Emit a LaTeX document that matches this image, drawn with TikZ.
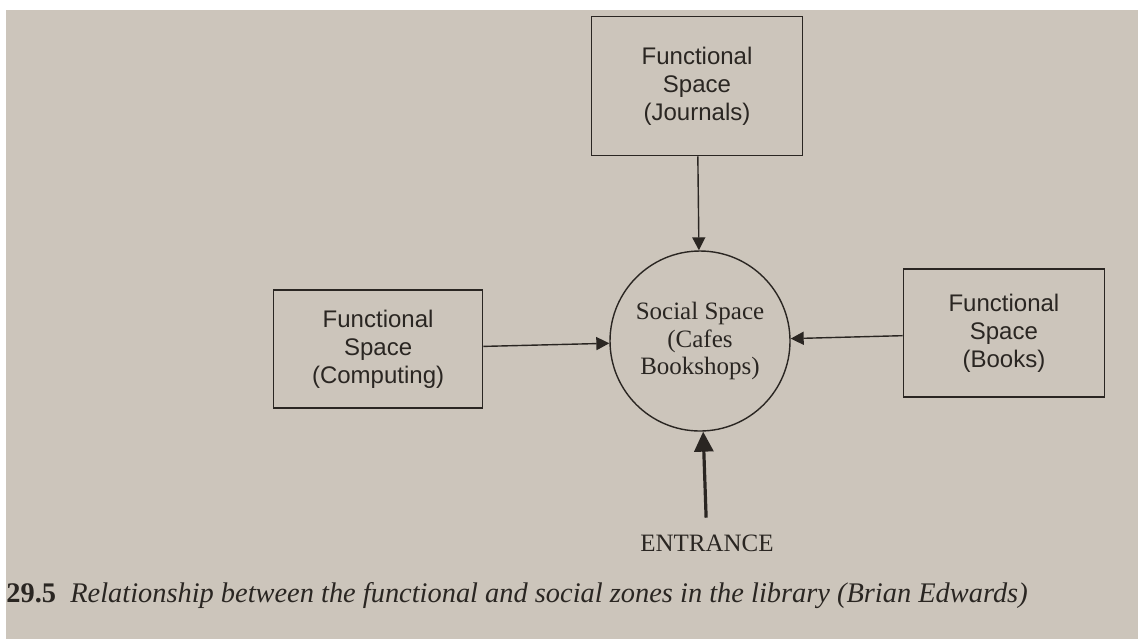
\documentclass[tikz,border=0pt]{standalone}
\usepackage{fontspec}
\setmainfont{Liberation Serif}
\newfontfamily\boxfont{Liberation Sans}
\usetikzlibrary{shapes,arrows.meta,positioning}
\definecolor{paper}{RGB}{204,197,187}
\definecolor{ink}{RGB}{42,38,34}
\tikzstyle{block} = [rectangle, draw=ink, text=ink, line width=0.7pt, align=center,
    font=\boxfont\fontsize{12}{14}\selectfont]
\tikzstyle{zone} = [circle, draw=ink, text=ink, line width=0.7pt, align=center,
    minimum size=90pt, font=\fontsize{12.5}{13.6}\selectfont]
\tikzstyle{line} = [draw=ink, line width=0.7pt, -{Triangle[length=6.5pt, width=6.5pt]}]
\tikzstyle{caption} = [text=ink, anchor=west, inner sep=0pt, font=\fontsize{14.2}{16}\selectfont]

\begin{document}
\begin{tikzpicture}[x=0.5pt, y=-0.5pt, node distance = 50pt]
    % Page
    \useasboundingbox (0,0) rectangle (1138,639);
    \fill [white] (0,0) rectangle (1138,639);
    \fill [paper] (6,10) rectangle (1138,639);
    % Place nodes
    \node [zone] (social) at (700,341) {Social Space\\(Cafes\\Bookshops)};
    \node [block, minimum width=105.5pt, minimum height=69.5pt, above = 47pt of social, xshift=-1.5pt] (journals) {Functional\\Space\\(Journals)};
    \node [block, minimum width=104.5pt, minimum height=59pt, left = 63pt of social, yshift=-4pt] (computing) {Functional\\Space\\(Computing)};
    \node [block, minimum width=100.5pt, minimum height=64pt, right = 56pt of social, yshift=4pt] (books) {Functional\\Space\\(Books)};
    \node [text=ink, font=\fontsize{12.5}{14}\selectfont, below = 48pt of social, xshift=3.5pt] (entrance) {ENTRANCE};
    \node [caption] (fig) at (6,596) {\textbf{29.5}\enspace\textit{Relationship between the functional and social zones in the library (Brian Edwards)}};
    \path [line] (journals) -- (social);
    \path [line] (computing) -- (social);
    \path [line] (books) -- (social);
    \path [line, line width=1.6pt, -{Triangle[length=10pt, width=9.5pt]}, shorten <=5pt] (entrance) -- (social);
\end{tikzpicture}
\end{document}
